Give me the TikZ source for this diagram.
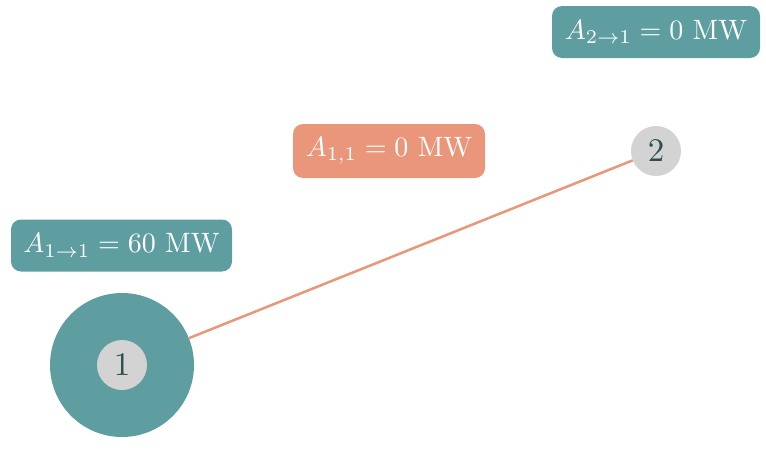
\documentclass[tikz,border=0pt]{standalone}
\usepackage{graphicx}
\definecolor{teal1}{HTML}{5F9EA0}
\definecolor{salmon1}{HTML}{E9967A}
\definecolor{grey1}{HTML}{D3D3D3}
\definecolor{dark1}{HTML}{2F4F4F}
\newcommand{\lbltext}[1]{\scalebox{2.8}{#1}}
\newcommand{\bustext}[1]{\scalebox{3.3}{#1}}
\begin{document}
\begin{tikzpicture}[x=1pt,y=-1pt,
  lbl/.style={rounded corners=10pt, text=white, inner sep=0pt},
  bus/.style={circle, fill=grey1, text=dark1, minimum size=50pt, inner sep=0pt},
  inj/.style={circle, fill=teal1, minimum size=144pt, inner sep=0pt},
  flow/.style={draw=salmon1, line width=2.5pt}]
\useasboundingbox (0,0) rectangle (766,471);
\node[inj] (n1big) at (122,365) {};
\node[bus] (n1) at (122,365) {\bustext{1}};
\node[bus] (n2) at (656,151) {\bustext{2}};
\draw[flow] (n1big) -- (n2);
\node[lbl, fill=teal1, minimum width=221pt, minimum height=52pt] (l1) at (121.5,245.5) {\lbltext{$A_{1\to1} = 60$ MW}};
\node[lbl, fill=teal1, minimum width=208pt, minimum height=52pt] (l2) at (656,32) {\lbltext{$A_{2\to1} = 0$ MW}};
\node[lbl, fill=salmon1, minimum width=192pt, minimum height=54pt] (l3) at (389,151) {\lbltext{$A_{1,1} = 0$ MW}};
\end{tikzpicture}
\end{document}
